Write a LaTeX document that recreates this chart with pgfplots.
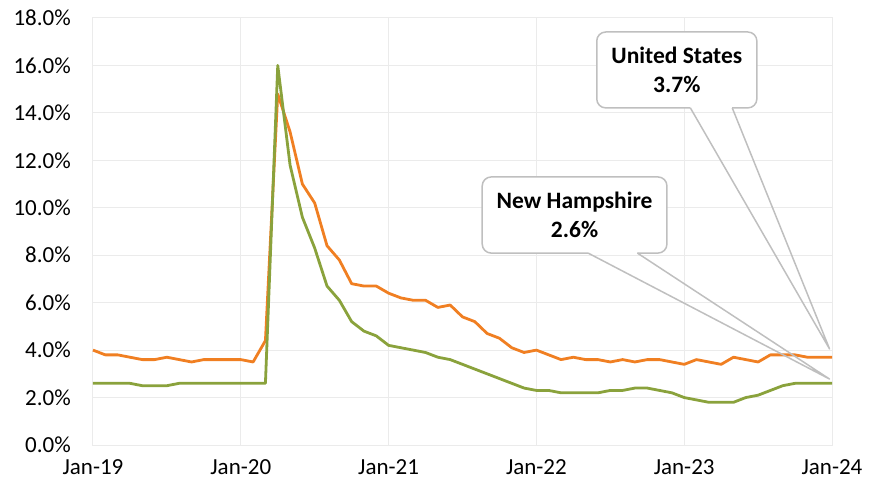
\documentclass[border=0pt]{standalone}
\usepackage{pgfplots}
\pgfplotsset{compat=1.18}
\usepackage{pgfplotstable}
\usepackage{fontspec}
\setmainfont{Carlito}
\definecolor{usor}{HTML}{F07F22}
\definecolor{nhgr}{HTML}{8AA23C}
\definecolor{gridc}{HTML}{EBEBEB}
\definecolor{callc}{HTML}{BFBFBF}
\newcommand\callfont{\fontsize{23.5}{28.5}\selectfont\bfseries}

\pgfplotstableread{
m us nh
0 4.0 2.6
1 3.8 2.6
2 3.8 2.6
3 3.7 2.6
4 3.6 2.5
5 3.6 2.5
6 3.7 2.5
7 3.6 2.6
8 3.5 2.6
9 3.6 2.6
10 3.6 2.6
11 3.6 2.6
12 3.6 2.6
13 3.5 2.6
14 4.4 2.6
15 14.8 16.0
16 13.2 11.8
17 11.0 9.6
18 10.2 8.3
19 8.4 6.7
20 7.8 6.1
21 6.8 5.2
22 6.7 4.8
23 6.7 4.6
24 6.4 4.2
25 6.2 4.1
26 6.1 4.0
27 6.1 3.9
28 5.8 3.7
29 5.9 3.6
30 5.4 3.4
31 5.2 3.2
32 4.7 3.0
33 4.5 2.8
34 4.1 2.6
35 3.9 2.4
36 4.0 2.3
37 3.8 2.3
38 3.6 2.2
39 3.7 2.2
40 3.6 2.2
41 3.6 2.2
42 3.5 2.3
43 3.6 2.3
44 3.5 2.4
45 3.6 2.4
46 3.6 2.3
47 3.5 2.2
48 3.4 2.0
49 3.6 1.9
50 3.5 1.8
51 3.4 1.8
52 3.7 1.8
53 3.6 2.0
54 3.5 2.1
55 3.8 2.3
56 3.8 2.5
57 3.8 2.6
58 3.7 2.6
59 3.7 2.6
60 3.7 2.6
}\datatable

\begin{document}
\begin{tikzpicture}
\begin{axis}[
  scale only axis,
  width=739pt, height=427pt,
  xmin=0, xmax=60, ymin=0, ymax=18,
  clip=false,
  axis line style={draw=gridc, line width=1pt},
  grid=major,
  major grid style={draw=gridc, line width=1pt},
  tick style={draw=none},
  xtick={0,12,24,36,48,60},
  xticklabels={Jan-19,Jan-20,Jan-21,Jan-22,Jan-23,Jan-24},
  ytick={0,2,4,6,8,10,12,14,16,18},
  yticklabels={0.0\%,2.0\%,4.0\%,6.0\%,8.0\%,10.0\%,12.0\%,14.0\%,16.0\%,18.0\%},
  yticklabel style={font=\fontsize{23}{27}\selectfont, text=black, anchor=east, inner sep=0pt, xshift=-22pt},
  xticklabel style={font=\fontsize{23}{27}\selectfont, text=black, anchor=base, inner sep=0pt, yshift=-29pt},
]
\addplot[usor, line width=2.8pt, line join=round] table[x=m, y=us] {\datatable};
\addplot[nhgr, line width=2.8pt, line join=round] table[x=m, y=nh] {\datatable};

% United States callout
\fill[white, rounded corners=9pt] (axis cs:40.9,14.21) rectangle (axis cs:53.9,17.41);
\draw[callc, line width=1.5pt, rounded corners=9pt]
  (axis cs:51.9,14.21) -- (axis cs:53.9,14.21) -- (axis cs:53.9,17.41) -- (axis cs:40.9,17.41) -- (axis cs:40.9,14.21) -- (axis cs:48.5,14.21);
\draw[callc, line width=1.5pt, line join=round] (axis cs:48.5,14.21) -- (axis cs:59.8,4.05) -- (axis cs:51.9,14.21);
\node[align=center, font=\callfont] at (axis cs:47.4,15.81) {United States\\3.7\%};

% New Hampshire callout
\fill[white, rounded corners=9pt] (axis cs:31.6,8.09) rectangle (axis cs:46.6,11.3);
\draw[callc, line width=1.5pt, rounded corners=9pt]
  (axis cs:44.2,8.09) -- (axis cs:46.6,8.09) -- (axis cs:46.6,11.3) -- (axis cs:31.6,11.3) -- (axis cs:31.6,8.09) -- (axis cs:40.2,8.09);
\draw[callc, line width=1.5pt, line join=round] (axis cs:40.2,8.09) -- (axis cs:59.8,2.78) -- (axis cs:44.2,8.09);
\node[align=center, font=\callfont] at (axis cs:39.1,9.7) {New Hampshire\\2.6\%};

\coordinate (pll) at (rel axis cs:0,0);
\coordinate (pur) at (rel axis cs:1,1);
\end{axis}
\pgfresetboundingbox
\path[use as bounding box] ([shift={(-93pt,-47pt)}]pll) rectangle ([shift={(47pt,18pt)}]pur);
\end{tikzpicture}
\end{document}
